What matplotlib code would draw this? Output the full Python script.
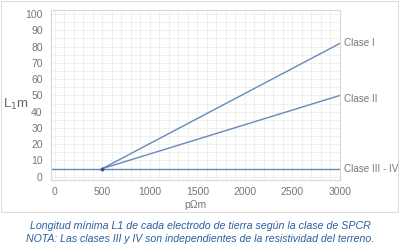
import matplotlib
matplotlib.use("Agg")
import matplotlib.pyplot as plt
from matplotlib.patches import Rectangle
import numpy as np

plt.rcParams['font.family'] = ['Liberation Sans', 'DejaVu Sans']

# Data
clase_I_x = [500, 3000]
clase_I_y = [5, 82]
clase_II_x = [500, 3000]
clase_II_y = [5, 50]
clase_III_x = [-40, 3000]
clase_III_y = [5, 5]
series_labels = ["Clase I", "Clase II", "Clase III - IV"]
x_ticks = [0, 500, 1000, 1500, 2000, 2500, 3000]
y_ticks = [0, 10, 20, 30, 40, 50, 60, 70, 80, 90, 100]
caption1 = "Longitud mínima L1 de cada electrodo de tierra según la clase de SPCR"
caption2 = "NOTA: Las clases III y IV son independientes de la resistividad del terreno."

fig = plt.figure(figsize=(4.0, 2.48), dpi=100)
fig.patches.append(Rectangle((1/400, 1 - 212/248), 397/400, 211/248,
                             transform=fig.transFigure, fill=False,
                             edgecolor='#dddddd', linewidth=0.8))

ax = fig.add_axes([51/400, 1 - 180/248, 289/400, 170/248])
line_color = '#6788b8'
ax.plot(clase_I_x, clase_I_y, color=line_color, lw=1.0)
ax.plot(clase_II_x, clase_II_y, color=line_color, lw=1.0)
ax.plot(clase_III_x, clase_III_y, color=line_color, lw=1.0)
ax.plot([500], [5], marker='o', ms=1.8, color='#2d5a8f')

ax.set_xlim(-40, 3000)
ax.set_ylim(-2, 102.5)
ax.set_xticks(x_ticks)
ax.set_yticks(y_ticks)
ax.set_xticks(np.arange(0, 3001, 100), minor=True)
ax.set_yticks(np.arange(0, 101, 5), minor=True)
ax.grid(which='both', color='#ececec', lw=0.6)
ax.set_axisbelow(True)
ax.tick_params(which='both', length=0, labelsize=7.5, labelcolor='#777777')
ax.tick_params(axis='y', pad=6)
ax.tick_params(axis='x', pad=5)
for s in ax.spines.values():
    s.set_color('#d8d8d8')
    s.set_linewidth(0.8)

ax.set_xlabel("pΩm", fontsize=7.5, color='#777777', labelpad=2)
fig.text(16/400, 1 - 104/248, "L$_1$m", fontsize=9.5, color='#666666',
         ha='center', va='center')

label_y = [clase_I_y[-1], clase_II_y[-1], clase_III_y[-1]]
offsets = [0, 2, 0]
for lab, yv, off in zip(series_labels, label_y, offsets):
    ax.annotate(lab, xy=(1, yv - off), xycoords=('axes fraction', 'data'),
                xytext=(3, 0), textcoords='offset points',
                fontsize=7.1, color='#777777', va='center', ha='left',
                annotation_clip=False)

cap_color = '#2a5f9e'
fig.text(0.5, 1 - 226/248, caption1, fontsize=7.7, style='italic',
         color=cap_color, ha='center', va='center')
fig.text(0.5, 1 - 239/248, caption2, fontsize=7.6, style='italic',
         color=cap_color, ha='center', va='center')

fig.savefig("out.png", dpi=100)
